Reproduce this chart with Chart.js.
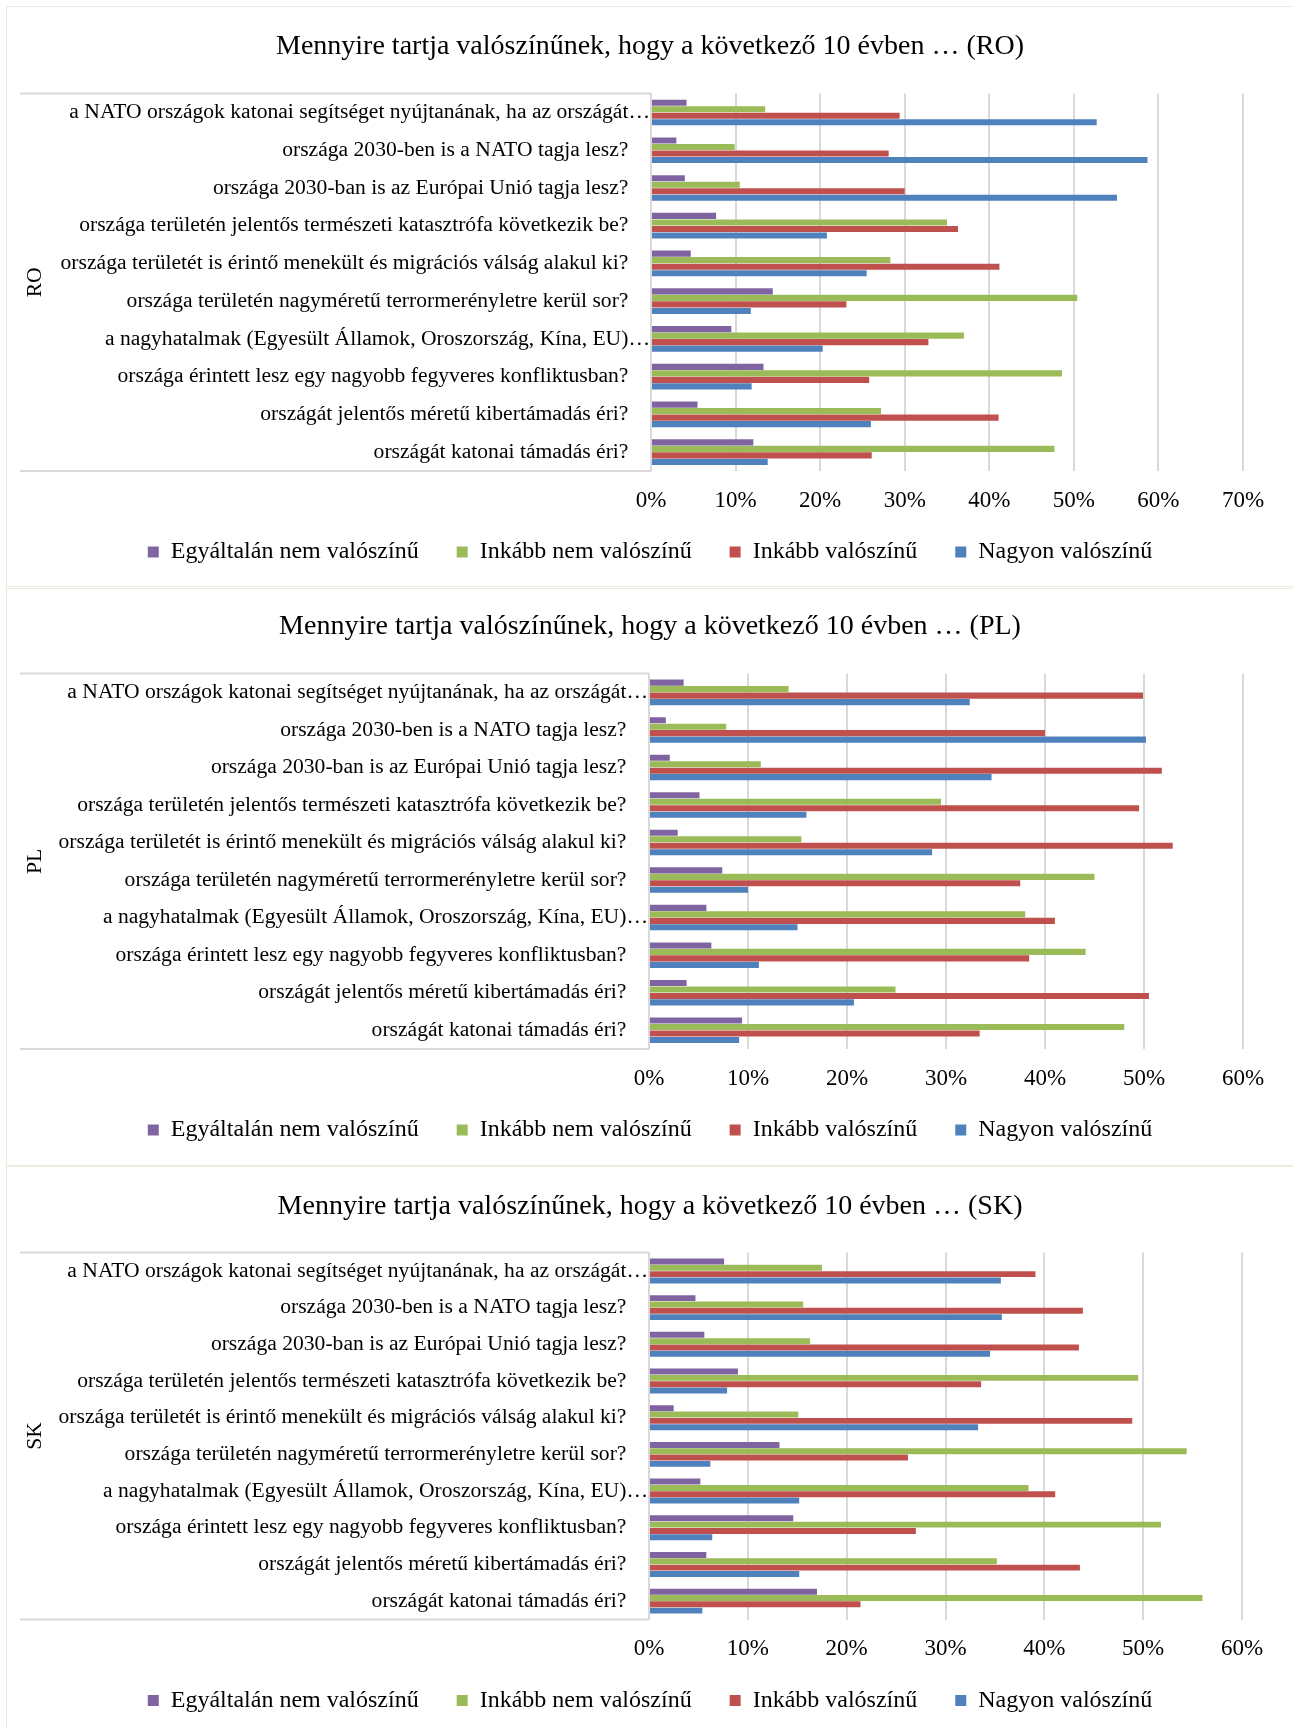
<!DOCTYPE html>
<html>
<head>
<meta charset="utf-8">
<script src="https://cdn.jsdelivr.net/npm/chart.js@4.4.1/dist/chart.umd.min.js"></script>
<style>
  body { margin: 0; background: #fff; width: 1293px; height: 1729px; overflow: hidden; position: relative; }
  .panel { position: absolute; left: 6px; width: 1300px; border: 1px solid #eeece1; box-sizing: border-box; }
  .panel canvas { position: absolute; left: 0; top: 0; }
</style>
</head>
<body>
<div class="panel" style="top:6px;height:581px"><canvas id="chartRO" width="1286" height="579"></canvas></div>
<div class="panel" style="top:588px;height:578px"><canvas id="chartPL" width="1286" height="576"></canvas></div>
<div class="panel" style="top:1166px;height:570px"><canvas id="chartSK" width="1286" height="562"></canvas></div>
<script>
const kategoriak = [
    'a NATO országok katonai segítséget nyújtanának, ha az országát…',
    'országa 2030-ben is a NATO tagja lesz?',
    'országa 2030-ban is az Európai Unió tagja lesz?',
    'országa területén jelentős természeti katasztrófa következik be?',
    'országa területét is érintő menekült és migrációs válság alakul ki?',
    'országa területén nagyméretű terrormerényletre kerül sor?',
    'a nagyhatalmak (Egyesült Államok, Oroszország, Kína, EU)…',
    'országa érintett lesz egy nagyobb fegyveres konfliktusban?',
    'országát jelentős méretű kibertámadás éri?',
    'országát katonai támadás éri?'
];
const sorozatNevek = ['Egyáltalán nem valószínű', 'Inkább nem valószínű', 'Inkább valószínű', 'Nagyon valószínű'];
const szinek = ['#8064a2', '#9bbb59', '#c0504d', '#4f81bd'];

// RO
const roEgyaltalan = [4.2, 3.0, 4.0, 7.7, 4.7, 14.4, 9.5, 13.3, 5.5, 12.1];
const roInkabbNem  = [13.5, 9.9, 10.5, 35.0, 28.3, 50.4, 37.0, 48.6, 27.2, 47.7];
const roInkabb     = [29.4, 28.1, 30.0, 36.3, 41.2, 23.1, 32.8, 25.8, 41.1, 26.1];
const roNagyon     = [52.7, 58.7, 55.1, 20.8, 25.5, 11.8, 20.3, 11.9, 26.0, 13.8];
// PL
const plEgyaltalan = [3.5, 1.7, 2.1, 5.1, 2.9, 7.4, 5.8, 6.3, 3.8, 9.4];
const plInkabbNem  = [14.1, 7.8, 11.3, 29.5, 15.4, 45.0, 38.0, 44.1, 24.9, 48.0];
const plInkabb     = [49.9, 40.0, 51.8, 49.5, 52.9, 37.5, 41.0, 38.4, 50.5, 33.4];
const plNagyon     = [32.4, 50.2, 34.6, 15.9, 28.6, 10.0, 15.0, 11.1, 20.7, 9.1];
// SK
const skEgyaltalan = [7.6, 4.7, 5.6, 9.0, 2.5, 13.2, 5.2, 14.6, 5.8, 17.0];
const skInkabbNem  = [17.5, 15.6, 16.3, 49.5, 15.1, 54.4, 38.4, 51.8, 35.2, 56.0];
const skInkabb     = [39.1, 43.9, 43.5, 33.6, 48.9, 26.2, 41.1, 27.0, 43.6, 21.4];
const skNagyon     = [35.6, 35.7, 34.5, 7.9, 33.3, 6.2, 15.2, 6.4, 15.2, 5.4];

const xMaxRO = 70;
const xMaxPL = 60;
const xMaxSK = 60;

Chart.defaults.font.family = "'Liberation Serif', 'Times New Roman', serif";
Chart.defaults.color = '#000';

// gray frame round the category labels, as in the Excel original
const labelBox = {
    id: 'labelBox',
    afterDraw(chart) {
        const {ctx, chartArea} = chart;
        ctx.save();
        ctx.strokeStyle = '#d9d9d9';
        ctx.lineWidth = 2;
        ctx.beginPath();
        ctx.moveTo(13, chartArea.top);
        ctx.lineTo(chartArea.left, chartArea.top);
        ctx.moveTo(13, chartArea.bottom);
        ctx.lineTo(chartArea.left, chartArea.bottom);
        ctx.stroke();
        ctx.restore();
    }
};

function makeChart(id, code, series, xMax, lay) {
    const ctx = document.getElementById(id).getContext('2d');
    new Chart(ctx, {
        type: 'bar',
        data: {
            labels: kategoriak,
            datasets: series.map((d, i) => ({
                label: sorozatNevek[i],
                data: d,
                backgroundColor: szinek[i],
                borderWidth: 0,
                categoryPercentage: 0.69,
                barPercentage: 0.94
            }))
        },
        options: {
            indexAxis: 'y',
            responsive: false,
            animation: false,
            layout: { padding: { left: 0, right: 0, top: 0, bottom: lay.padBottom } },
            plugins: {
                title: {
                    display: true,
                    text: 'Mennyire tartja valószínűnek, hogy a következő 10 évben … (' + code + ')',
                    font: { size: 28, weight: 'normal' },
                    color: '#000',
                    padding: { top: lay.titleTop, bottom: lay.titleBottom }
                },
                legend: {
                    position: 'bottom',
                    labels: {
                        boxWidth: 11,
                        boxHeight: 11,
                        padding: 14,
                        font: { size: 24 },
                        color: '#000',
                        // wider gap between the legend entries, like Excel
                        generateLabels: chart => {
                            const items = Chart.defaults.plugins.legend.labels.generateLabels(chart);
                            items.forEach((it, i) => { if (i < items.length - 1) it.text += '\u2003'; });
                            return items;
                        }
                    }
                },
                tooltip: { enabled: false }
            },
            scales: {
                x: {
                    min: 0,
                    max: xMax,
                    grid: { color: '#d9d9d9', lineWidth: 2, drawTicks: false },
                    border: { display: false },
                    ticks: { stepSize: 10, padding: 16, font: { size: 23 }, callback: v => v + '%' },
                    afterFit: s => { s.height = lay.axisH; }
                },
                y: {
                    grid: { display: false, drawTicks: false },
                    border: { display: true, color: '#d9d9d9', width: 1.5 },
                    ticks: {
                        padding: 1,
                        font: { size: 21.6 },
                        autoSkip: false,
                        callback: function (v) {
                            const t = this.getLabelForValue(v);
                            return t.endsWith('…') ? t : t + '\u2003';
                        }
                    },
                    title: { display: true, text: code, font: { size: 21.6 }, padding: { top: 15, bottom: 0 } },
                    afterFit: s => { s.width = lay.zeroX; }
                },
                jobbMargo: {
                    type: 'linear',
                    position: 'right',
                    grid: { display: false },
                    border: { display: false },
                    ticks: { display: false },
                    afterFit: s => { s.width = lay.right; }
                }
            }
        },
        plugins: [labelBox]
    });
}

makeChart('chartRO', 'RO', [roEgyaltalan, roInkabbNem, roInkabb, roNagyon], xMaxRO,
    { zeroX: 644, right: 50, titleTop: 23, titleBottom: 30, padBottom: 12, axisH: 55 });
makeChart('chartPL', 'PL', [plEgyaltalan, plInkabbNem, plInkabb, plNagyon], xMaxPL,
    { zeroX: 642, right: 50, titleTop: 21, titleBottom: 30, padBottom: 13, axisH: 55 });
makeChart('chartSK', 'SK', [skEgyaltalan, skInkabbNem, skInkabb, skNagyon], xMaxSK,
    { zeroX: 642, right: 51, titleTop: 23, titleBottom: 29, padBottom: 6.5, axisH: 55 });
</script>
</body>
</html>
